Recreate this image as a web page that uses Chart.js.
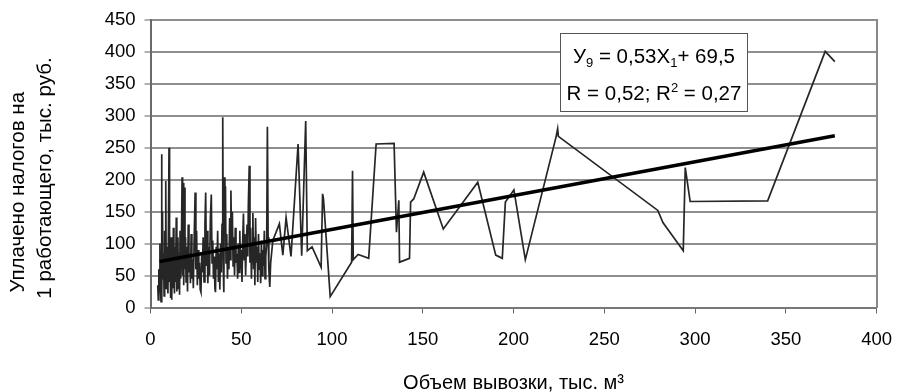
<!DOCTYPE html>
<html><head><meta charset="utf-8">
<script src="https://cdn.jsdelivr.net/npm/chart.js@4.4.0/dist/chart.umd.min.js"></script>
<style>html,body{margin:0;padding:0;background:#fff}canvas{display:block}</style>
</head><body>
<canvas id="c" width="907" height="392"></canvas>
<script>
// Объем вывозки, тыс. м3 (x) and уплачено налогов на 1 работающего, тыс. руб. (y)
const volX = [
 4.0,4.3,4.6,4.9,5.2,5.5,5.8,6.1,6.3,6.6,6.9,7.2,7.5,7.8,8.1,8.4,8.7,9.0,9.3,9.6,9.9,10.2,10.5,10.8,11.1,11.4,11.7,12.0,12.3,12.6,12.9,13.2,13.5,13.8,14.2,14.5,14.8,15.1,15.4,15.7,16.0,16.3,16.6,17.0,17.4,17.7,18.0,18.3,18.7,19.0,19.3,19.6,20.0,20.4,20.8,21.2,21.6,22.0,22.4,22.8,23.2,23.6,24.0,24.6,25.0,25.4,25.8,26.2,26.6,27.0,27.4,27.8,28.2,28.6,29.0,29.5,30.0,30.4,30.8,31.2,31.6,32.0,32.5,33.0,33.5,33.9,34.3,34.7,35.1,35.5,35.8,36.2,36.6,37.0,37.4,37.8,38.2,38.6,39.0,39.4,39.8,40.1,40.4,40.7,41.0,41.3,41.6,42.0,42.4,42.8,43.2,43.6,44.0,44.3,44.7,45.1,45.5,45.9,46.3,46.7,47.1,47.6,48.0,48.4,48.8,49.2,49.6,50.0,50.4,50.8,51.2,51.6,52.0,52.4,52.8,53.2,53.6,53.9,54.4,54.8,55.2,55.6,56.0,56.4,56.8,57.2,57.5,57.9,58.3,58.7,59.1,59.5,59.9,60.3,60.7,61.1,61.5,61.9,62.3,62.7,63.1,63.5,64.0,64.4,64.8,65.2,65.7,66.2,67.4,71.0,72.9,74.7,77.4,81.3,83.3,85.5,86.4,89.0,94.0,94.8,95.3,99.0,110.8,111.3,111.7,114.4,120.2,124.3,134.2,135.5,136.8,137.2,142.7,143.3,145.0,150.5,161.3,180.3,190.2,193.8,195.5,200.2,206.5,223.5,224.3,224.7,279.5,282.3,293.5,294.6,297.3,340.0,371.7,377.0
];
const taxY = [
 35,12,60,25,100,30,9,240,20,150,45,85,18,120,40,198,30,95,55,22,130,250,40,75,15,110,12,85,30,125,60,22,95,40,141,25,70,110,30,85,20,120,45,90,204,50,195,35,188,60,110,40,95,25,130,55,85,38,115,45,75,30,100,180,60,120,35,90,45,70,28,24,85,55,110,40,130,180,65,120,38,95,50,140,177,70,105,45,80,30,24,95,60,120,40,85,28,100,55,130,298,60,24,204,140,190,70,115,45,90,60,140,75,183,95,150,65,110,50,125,70,84,45,100,55,120,60,90,40,105,147,75,115,50,95,130,80,160,222,70,125,45,100,148,60,110,35,140,70,95,40,115,60,85,38,105,50,90,65,120,45,80,100,283,110,60,32,70,105,131,82,141,80,256,81,292,89,95,63,178,170,17,71,214,75,83,77,256,257,118,168,71,77,165,170,212,123,196,82,77,165,184,75,268,280,268,152,133,89,219,166,167,401,385
];
// Линия тренда: У9 = 0,53Х1 + 69,5 (end points)
const trendX = [5, 377];
const trendY = [72, 269];

const xTicks = [0,50,100,150,200,250,300,350,400];
const yTicks = [0,50,100,150,200,250,300,350,400,450];

const FONT = 'Arial, "Liberation Sans", sans-serif';

const eqBox = {
  id: 'eqBox',
  afterDatasetsDraw(chart) {
    const ctx = chart.ctx;
    const L = 560, T = 33, R = 748, B = 112;
    ctx.save();
    ctx.fillStyle = '#fff';
    ctx.fillRect(L, T, R - L, B - T);
    ctx.strokeStyle = '#555';
    ctx.lineWidth = 1;
    ctx.strokeRect(L + 0.5, T + 0.5, R - L - 1, B - T - 1);
    ctx.fillStyle = '#000';
    ctx.textBaseline = 'alphabetic';
    const big = '20.5px ' + FONT, small = '13px ' + FONT;
    function drawLine(parts, cy) {
      let w = 0;
      parts.forEach(p => { ctx.font = p[1] ? small : big; w += ctx.measureText(p[0]).width; });
      let x = (L + R) / 2 - w / 2;
      parts.forEach(p => {
        ctx.font = p[1] ? small : big;
        const dy = p[1] === 'sub' ? 4 : (p[1] === 'sup' ? -8 : 0);
        ctx.fillText(p[0], x, cy + 7 + dy);
        x += ctx.measureText(p[0]).width;
      });
    }
    drawLine([['У'], ['9','sub'], [' = 0,53Х'], ['1','sub'], ['+ 69,5']], 56);
    drawLine([['R = 0,52; R'], ['2','sup'], [' = 0,27']], 93);
    ctx.restore();
  }
};

new Chart(document.getElementById('c'), {
  type: 'scatter',
  data: {
    datasets: [
      {
        data: volX.map((x, i) => ({x, y: taxY[i]})),
        showLine: true, borderColor: '#262626', borderWidth: 1.7,
        pointRadius: 0, tension: 0, order: 2
      },
      {
        data: trendX.map((x, i) => ({x, y: trendY[i]})),
        showLine: true, borderColor: '#000', borderWidth: 3.5,
        pointRadius: 0, order: 1
      }
    ]
  },
  options: {
    responsive: false, animation: false, devicePixelRatio: 1,
    layout: { padding: { top: 19, right: 18, left: 0, bottom: 0 } },
    plugins: { legend: { display: false }, tooltip: { enabled: false } },
    scales: {
      x: {
        type: 'linear', min: 0, max: 400,
        afterBuildTicks: s => { s.ticks = xTicks.map(v => ({ value: v })); },
        afterFit: s => { s.height = 84.5; },
        ticks: { font: { family: FONT, size: 18.5 }, color: '#000', padding: 15, maxRotation: 0 },
        grid: { drawOnChartArea: false, drawTicks: true, tickLength: 6, color: '#666', lineWidth: 1 },
        border: { display: true, color: '#777', width: 2 },
        title: { display: true, text: 'Объем вывозки, тыс. м³', color: '#000',
                 font: { family: FONT, size: 20, lineHeight: 0.85 }, padding: { top: 0, bottom: 0 } }
      },
      y: {
        type: 'linear', min: 0, max: 450,
        afterBuildTicks: s => { s.ticks = yTicks.map(v => ({ value: v })); },
        afterFit: s => { s.width = 150.5; },
        ticks: { font: { family: FONT, size: 18.5 }, color: '#000', padding: 9 },
        grid: { color: '#8f8f8f', lineWidth: 2, tickLength: 6, tickColor: '#666', tickWidth: 1 },
        border: { display: true, color: '#6a6a6a', width: 2 },
        title: { display: true,
                 text: ['Уплачено налогов на          ', '1 работающего, тыс. руб.     '],
                 color: '#000', font: { family: FONT, size: 20.5, lineHeight: 1.32 }, padding: { top: 5, bottom: 0 } }
      },
      yR: {
        type: 'linear', position: 'right', min: 0, max: 450,
        afterFit: s => { s.width = 0; },
        ticks: { display: false },
        grid: { drawOnChartArea: false, drawTicks: false },
        border: { display: true, color: '#888', width: 2 }
      }
    }
  },
  plugins: [eqBox]
});
</script>
</body></html>
